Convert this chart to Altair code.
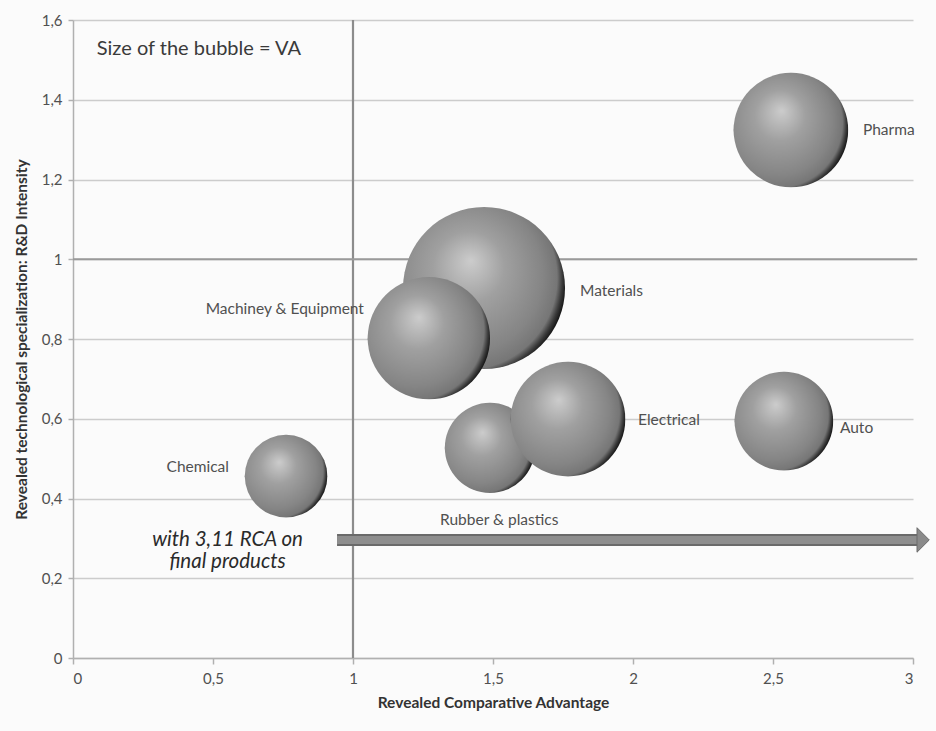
import altair as alt
import pandas as pd

# Sectors: revealed comparative advantage (x), R&D intensity (y), value added (bubble size)
sectors = ["Materials", "Machiney & Equipment", "Rubber & plastics", "Electrical",
           "Pharma", "Auto", "Chemical"]
rca = [1.468, 1.271, 1.489, 1.768, 2.564, 2.539, 0.761]
rd_intensity = [0.928, 0.802, 0.527, 0.599, 1.324, 0.594, 0.456]
va = [100, 57, 31, 50, 50, 37, 26]

# Label anchor points (data units) and alignment for each sector name
label_x = [1.811, 1.039, 1.311, 2.018, 2.821, 2.739, 0.557]
label_y = [0.920, 0.875, 0.346, 0.597, 1.324, 0.577, 0.479]
label_align = ["left", "right", "left", "left", "left", "left", "right"]

x_ticks = [0, 0.5, 1, 1.5, 2, 2.5, 3]
y_ticks = [0, 0.2, 0.4, 0.6, 0.8, 1.0, 1.2, 1.4, 1.6]

FONT = "Lato"
TEXT = "#505050"

bubbles = pd.DataFrame({"sector": sectors, "rca": rca, "rd": rd_intensity,
                        "va": va, "draw": list(range(len(sectors)))})
labels = pd.DataFrame({"sector": sectors, "lx": label_x, "ly": label_y,
                       "align": label_align})

fmt = "replace(toString(datum.value), '.', ',')"
xscale = alt.Scale(domain=[0, 3], nice=False, zero=True)
yscale = alt.Scale(domain=[0, 1.6], nice=False)

x_enc = alt.X("rca:Q", scale=xscale, title="Revealed Comparative Advantage",
              axis=alt.Axis(values=x_ticks, labelExpr=fmt, grid=False,
                            domainColor="#b0b0b0", domainWidth=1.5,
                            tickColor="#b0b0b0", tickSize=6, tickWidth=1.5,
                            labelColor=TEXT, labelFontSize=15, labelFont=FONT,
                            labelPadding=7,
                            titleFont=FONT, titleFontSize=15.5, titleFontWeight="bold",
                            titleColor="#333333", titlePadding=9))
y_enc = alt.Y("rd:Q", scale=yscale,
              title="Revealed technological specialization: R&D Intensity",
              axis=alt.Axis(values=y_ticks, labelExpr=fmt, grid=True,
                            gridColor="#cccccc", gridWidth=1.6,
                            domainColor="#b0b0b0", domainWidth=1.5,
                            tickColor="#b0b0b0", tickSize=5, tickWidth=1.5,
                            labelColor=TEXT, labelFontSize=15, labelFont=FONT,
                            labelPadding=6,
                            titleFont=FONT, titleFontSize=15.5, titleFontWeight="bold",
                            titleColor="#333333", titlePadding=12))

sphere = alt.RadialGradient(
    gradient="radial",
    x1=0.42, y1=0.33, r1=0,
    x2=0.38, y2=0.45, r2=0.63,
    stops=[
        alt.GradientStop(offset=0, color="#cccccc"),
        alt.GradientStop(offset=0.35, color="#a0a0a0"),
        alt.GradientStop(offset=0.75, color="#858585"),
        alt.GradientStop(offset=0.9, color="#767676"),
        alt.GradientStop(offset=0.955, color="#3a3a3a"),
        alt.GradientStop(offset=1, color="#141414"),
    ],
)

# Reference lines at RCA = 1 and R&D intensity = 1
vline = alt.Chart(pd.DataFrame({"x": [1]})).mark_rule(
    color="#8c8c8c", strokeWidth=2.2).encode(x=alt.X("x:Q", scale=xscale))
hline = alt.Chart(pd.DataFrame({"y": [1], "x": [0], "x2": [3.015]})).mark_rule(
    color="#9a9a9a", strokeWidth=2.2).encode(
    y=alt.Y("y:Q", scale=yscale), x=alt.X("x:Q", scale=xscale), x2="x2:Q")

# Arrow pointing to the right along R&D intensity ~0.3
arrow_df = pd.DataFrame({"x": [0.943], "x2": [3.018], "y": [0.296]})
arrow_edge = alt.Chart(arrow_df).mark_rule(color="#6a6a6a", strokeWidth=12).encode(
    x=alt.X("x:Q", scale=xscale), x2="x2:Q", y=alt.Y("y:Q", scale=yscale))
arrow_fill = alt.Chart(arrow_df).mark_rule(color="#8e8e8e", strokeWidth=8).encode(
    x=alt.X("x:Q", scale=xscale), x2="x2:Q", y=alt.Y("y:Q", scale=yscale))
arrow_head = alt.Chart(pd.DataFrame({"x": [3.034], "y": [0.296]})).mark_point(
    shape="M-0.45,-1 L0.55,0 L-0.45,1 Z", size=600, filled=True, opacity=1,
    fill="#8a8a8a", stroke="#6a6a6a", strokeWidth=1).encode(
    x=alt.X("x:Q", scale=xscale), y=alt.Y("y:Q", scale=yscale))

# Circle symbol size is the square of its diameter
circles = alt.Chart(bubbles).mark_circle(opacity=1, fill=sphere).encode(
    x=x_enc, y=y_enc,
    size=alt.Size("va:Q", scale=alt.Scale(domain=[0, 100], range=[0, 26244]),
                  legend=None),
    order=alt.Order("draw:Q"),
)

names_left = alt.Chart(labels[labels["align"] == "left"]).mark_text(
    font=FONT, fontSize=15.5, color=TEXT, align="left", baseline="middle").encode(
    x=alt.X("lx:Q", scale=xscale), y=alt.Y("ly:Q", scale=yscale), text="sector:N")
names_right = alt.Chart(labels[labels["align"] == "right"]).mark_text(
    font=FONT, fontSize=15.5, color=TEXT, align="right", baseline="middle").encode(
    x=alt.X("lx:Q", scale=xscale), y=alt.Y("ly:Q", scale=yscale), text="sector:N")

size_note = alt.Chart(pd.DataFrame({"x": [0.085], "y": [1.527],
                                    "t": ["Size of the bubble = VA"]})).mark_text(
    font=FONT, fontSize=20, color="#3a3a3a", align="left", baseline="middle").encode(
    x=alt.X("x:Q", scale=xscale), y=alt.Y("y:Q", scale=yscale), text="t:N")

rca_note = alt.Chart(pd.DataFrame({"x": [0.552, 0.552], "y": [0.297, 0.24],
                                   "t": ["with 3,11  RCA on", "final products"]})).mark_text(
    font=FONT, fontSize=20.5, fontStyle="italic", color="#2a2a2a", align="center",
    baseline="middle").encode(
    x=alt.X("x:Q", scale=xscale), y=alt.Y("y:Q", scale=yscale), text="t:N")

chart = alt.layer(
    vline, hline, arrow_edge, arrow_fill, arrow_head,
    circles, names_left, names_right, size_note, rca_note,
).properties(
    width=840, height=638,
    autosize=alt.AutoSizeParams(type="none"),
    padding={"left": 73, "top": 20, "right": 23, "bottom": 73},
    background="#fbfbfb",
).configure_view(stroke=None)

chart.save("out.html", embed_options={"renderer": "svg", "actions": False})
